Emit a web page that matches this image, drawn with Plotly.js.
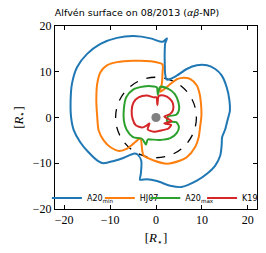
<!DOCTYPE html>
<html>
<head>
<meta charset="utf-8">
<script src="https://cdn.plot.ly/plotly-3.0.1.min.js"></script>
<style>html,body{margin:0;padding:0;background:#fff;}#chart{width:266px;height:253px;}</style>
</head>
<body>
<div id="chart"></div>
<script>
const seriesNames = ['A20<sub>min</sub>', 'HJ07', 'A20<sub>max</sub>', 'K19'];

// A20_min (blue) Alfvén-surface contour, in R_star
const a20minX = [0.9, -1.2, -4.9, -8.5, -12.1, -15.0, -17.2, -18.3, -18.6, -18.5, -17.9, -16.5, -14.7, -12.5, -11.4, -9.2, -7.0, -4.9, -4.0, -3.2, -3.3, -3.5, -2.0, 0.2, 3.1, 5.5, 8.9, 11.1, 12.9, 14.0, 14.3, 14.4, 15.1, 15.6, 16.1, 16.0, 15.4, 14.3, 12.9, 11.1, 8.9, 6.7, 4.6, 3.1, 2.3, 2.0, 1.9, 1.9, 2.0, 2.4, 1.6, 0.9];
const a20minY = [16.6, 17.3, 17.8, 17.4, 16.1, 13.9, 11.0, 7.4, 3.7, 0.1, -2.8, -5.4, -7.6, -9.6, -10.0, -9.5, -8.8, -7.9, -8.1, -9.5, -12.3, -13.6, -13.5, -13.9, -14.9, -15.2, -13.8, -12.3, -10.5, -8.3, -6.1, -4.3, -2.5, -0.5, 1.5, 3.7, 6.6, 9.2, 10.6, 11.4, 11.4, 10.6, 9.2, 8.4, 8.3, 9.5, 12.0, 14.5, 16.2, 17.3, 16.6, 16.6];

// HJ07 (orange) contour
const hj07X = [1.4, -1.2, -4.9, -8.5, -10.7, -12.1, -12.8, -13.0, -12.8, -12.5, -11.4, -9.9, -8.0, -6.3, -4.9, -3.4, -3.0, -2.7, -0.5, 2.4, 5.3, 6.7, 8.5, 9.3, 9.6, 9.9, 9.8, 9.5, 8.9, 7.5, 6.0, 4.6, 3.1, 0.9, 1.3, 1.4, 1.4];
const hj07Y = [11.6, 12.3, 12.4, 12.1, 11.4, 9.9, 7.4, 3.7, 0.1, -2.8, -5.0, -6.5, -7.3, -6.8, -5.7, -4.6, -7.2, -8.3, -9.4, -10.1, -9.4, -8.7, -6.5, -4.3, -2.1, 0.5, 3.0, 5.2, 7.0, 8.4, 8.7, 8.4, 7.3, 5.6, 7.5, 9.5, 11.6];

// A20_max (green) contour
const a20maxX = [0.2, -0.5, -2.7, -5.0, -6.5, -7.0, -7.0, -6.4, -5.0, -3.0, -2.2, -1.8, -1.2, 0.9, 3.1, 4.5, 5.0, 4.4, 2.4, 2.6, 4.4, 5.0, 4.9, 4.1, 2.6, 0.9, 0.4, 0.2];
const a20maxY = [6.6, 6.8, 6.8, 6.1, 4.4, 1.9, -0.7, -2.7, -4.3, -4.7, -5.9, -4.8, -4.8, -4.9, -4.5, -3.4, -2.1, -1.0, -0.8, 0.2, 0.6, 1.6, 3.3, 5.1, 6.3, 6.7, 5.0, 6.6];

// K19 (red) contour
const k19X = [0.6, 0.3, 0.1, -0.5, -2.0, -3.8, -4.9, -5.3, -5.1, -4.4, -3.0, -2.1, -1.4, -1.8, -0.5, 1.3, 2.7, 3.3, 1.8, 3.4, 1.8, 3.0, 3.7, 3.7, 3.0, 1.7, 0.6];
const k19Y = [4.7, 2.7, 4.4, 4.4, 4.8, 4.4, 3.3, 1.5, -0.3, -1.7, -2.2, -1.8, -1.3, -2.6, -3.1, -2.8, -2.4, -1.6, -1.3, -0.8, 0.2, 0.7, 1.6, 3.0, 4.1, 4.8, 4.7];

const xs = [a20minX, hj07X, a20maxX, k19X];
const ys = [a20minY, hj07Y, a20maxY, k19Y];

// Dashed critical circle radius and stellar disc radius (R_star)
const criticalRadius = 8.8;
const starRadius = 1.0;
const tickVals = [-20, -10, 0, 10, 20];

const colors = ['#1f77b4', '#ff7f0e', '#2ca02c', '#d62728'];
const legendIds = ['legend', 'legend2', 'legend3', 'legend4'];
const legendX = [-0.04, 0.222, 0.447, 0.728];

const traces = xs.map((x, i) => ({
  type: 'scatter', mode: 'lines', x: x, y: ys[i], name: seriesNames[i],
  line: {color: colors[i], width: 2, shape: 'spline', smoothing: 0.7}, legend: legendIds[i]
}));

const serif = 'Liberation Serif, DejaVu Serif, serif';
const axisBase = {
  ticks: 'inside', ticklen: 4, tickwidth: 1, tickcolor: '#000',
  showline: true, linecolor: '#000', linewidth: 1, mirror: 'ticks',
  showgrid: false, zeroline: false, tickvals: tickVals,
  tickfont: {family: serif, size: 12, color: '#000'}
};

const layout = {
  width: 266, height: 253,
  margin: {l: 55, r: 9, t: 26, b: 44, autoexpand: false},
  paper_bgcolor: '#fff', plot_bgcolor: '#fff',
  title: {
    text: 'Alfvén surface on 08/2013 (<i>αβ</i>-NP)',
    font: {family: 'DejaVu Sans, sans-serif', size: 9.5, color: '#000'},
    x: 137 / 266, xref: 'container', xanchor: 'center',
    y: 1 - 13 / 253, yref: 'container', yanchor: 'middle'
  },
  xaxis: Object.assign({}, axisBase, {
    range: [-22, 22], automargin: false,
    title: {text: '[<i>R</i><sub>⋆</sub>]', font: {family: serif, size: 13, color: '#000'}, standoff: 6}
  }),
  yaxis: Object.assign({}, axisBase, {
    range: [-20, 20], automargin: false,
    title: {text: '[<i>R</i><sub>⋆</sub>]', font: {family: serif, size: 13, color: '#000'}, standoff: 6}
  }),
  shapes: [
    {type: 'circle', xref: 'x', yref: 'y', x0: -criticalRadius, x1: criticalRadius, y0: -criticalRadius, y1: criticalRadius,
     line: {color: '#000', width: 1.3, dash: 'dash'}, layer: 'below'},
    {type: 'circle', xref: 'x', yref: 'y', x0: -starRadius, x1: starRadius, y0: -starRadius, y1: starRadius,
     fillcolor: '#808080', line: {width: 0}, layer: 'above'}
  ],
  showlegend: true
};
legendIds.forEach((id, i) => {
  layout[id] = {
    x: legendX[i], y: 0.06, xanchor: 'left', yanchor: 'middle',
    bgcolor: 'rgba(0,0,0,0)', borderwidth: 0, itemwidth: 30,
    font: {family: 'DejaVu Sans, sans-serif', size: 8, color: '#000'}
  };
});

Plotly.newPlot('chart', traces, layout, {displayModeBar: false, staticPlot: true});
</script>
</body>
</html>
